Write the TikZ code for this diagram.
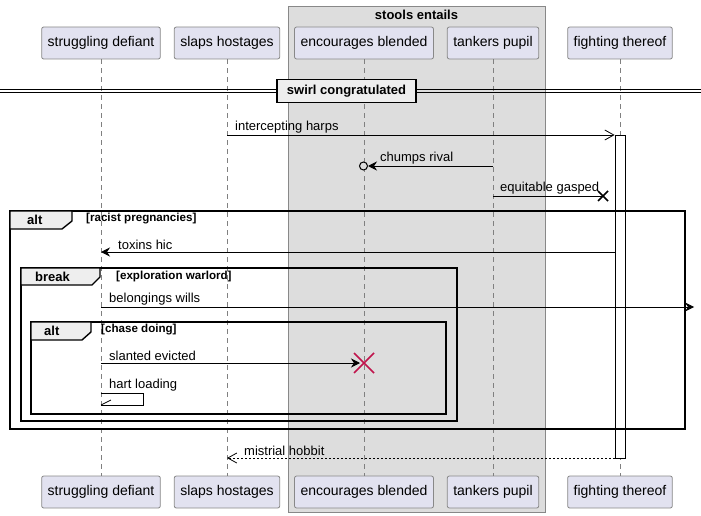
\documentclass[tikz,border=0pt]{standalone}
\usepackage{fontspec}
\setmainfont{Liberation Sans}
\usetikzlibrary{arrows.meta,calc}
\definecolor{partfill}{HTML}{E2E2F0}
\definecolor{partdraw}{HTML}{888888}
\definecolor{grpfill}{HTML}{DDDDDD}
\definecolor{tabfill}{HTML}{EEEEEE}
\definecolor{xred}{HTML}{C0144C}
\tikzset{
  part/.style={draw=partdraw,fill=partfill,rounded corners=2pt,minimum height=32pt,inner xsep=6pt,font=\fontsize{14}{16}\selectfont,line width=0.8pt},
  life/.style={draw=gray,dash pattern=on 5pt off 4pt,line width=0.6pt},
  msg/.style={draw=black,line width=0.8pt},
  mlabel/.style={font=\fontsize{13}{15}\selectfont,anchor=south west,inner sep=1pt},
  frm/.style={draw=black,line width=1.4pt},
  tab/.style={draw=black,fill=tabfill,line width=1.4pt},
  tablabel/.style={font=\bfseries\fontsize{13}{15}\selectfont,anchor=west,inner sep=0pt},
  guard/.style={font=\bfseries\fontsize{11.6}{13}\selectfont,anchor=west,inner sep=0pt},
  openarr/.style={-{Straight Barb[length=9pt,width=10pt,line width=0.8pt]}},
  fillarr/.style={-{Stealth[length=9pt,width=9pt,inset=3pt]}},
}
\begin{document}
\begin{tikzpicture}[x=1pt,y=-1pt]
\useasboundingbox (0,0) rectangle (701,516);
% group box
\node[draw=partdraw,fill=grpfill,line width=0.8pt,minimum width=257pt,minimum height=506pt,anchor=north west,inner sep=0pt] (grp) at (288,6) {};
\node[font=\bfseries\fontsize{13}{15}\selectfont,inner sep=0pt] (grptitle) at (416.5,15) {stools entails};
% participants top
\node[part] (sdT) at (101,43) {struggling defiant};
\node[part] (shT) at (227,43) {slaps hostages};
\node[part] (ebT) at (364,43) {encourages blended};
\node[part] (tpT) at (493,43) {tankers pupil};
\node[part] (ftT) at (620,43) {fighting thereof};
% participants bottom
\node[part] (sdB) at (101,492) {struggling defiant};
\node[part] (shB) at (227,492) {slaps hostages};
\node[part] (ebB) at (364,492) {encourages blended};
\node[part] (tpB) at (493,492) {tankers pupil};
\node[part] (ftB) at (620,492) {fighting thereof};
% lifelines
\foreach \p in {sd,sh,eb,tp,ft}{\draw[life] (\p T.south) -- (\p B.north);}
% divider
\draw[line width=0.8pt] (0,89.5) -- (701,89.5);
\draw[line width=0.8pt] (0,92.5) -- (701,92.5);
\node[draw=black,fill=tabfill,line width=1.6pt,minimum width=139pt,minimum height=23pt,font=\bfseries\fontsize{13}{15}\selectfont] (div) at (346.5,91) {swirl congratulated};
% activation
\node[draw=black,fill=white,line width=0.8pt,minimum width=10pt,minimum height=323pt,anchor=north,inner sep=0pt] (act) at (620,135) {};
% message y-lines helpers
\coordinate (y135) at (0,135);
\coordinate (y166) at (0,166);
\coordinate (y196) at (0,196);
\coordinate (y252) at (0,252);
\coordinate (y307) at (0,307);
\coordinate (y363) at (0,363);
\coordinate (y458) at (0,458);
% intercepting harps
\draw[msg,openarr] (shT |- y135) -- (act.west |- y135);
\node[mlabel] (l1) at (234,134) {intercepting harps};
% chumps rival
\coordinate (crEnd) at (368,166);
\draw[msg,fillarr] (tpT |- y166) -- (crEnd);
\node[draw=black,line width=1pt,circle,minimum size=8pt,inner sep=0pt,fill=grpfill] (crc) at (363.5,166) {};
\node[mlabel] (l2) at (379,165) {chumps rival};
% equitable gasped
\coordinate (egEnd) at (603,196);
\draw[msg] (tpT |- y196) -- (egEnd);
\draw[line width=1.6pt] ($(egEnd)+(-5,-5)$) -- ($(egEnd)+(5,5)$) ($(egEnd)+(-5,5)$) -- ($(egEnd)+(5,-5)$);
\node[mlabel] (l3) at (499,195) {equitable gasped};
% outer alt frame
\draw[frm] (10,211) rectangle (685,429);
\draw[tab] (10,211) -- (72,211) -- (72,221) -- (62,229) -- (10,229) -- cycle;
\node[tablabel] (t1) at (27,220) {alt};
\node[guard] (g1) at (86,219) {[racist pregnancies]};
% toxins hic
\draw[msg,fillarr] (act.west |- y252) -- (sdT |- y252);
\node[mlabel] (l4) at (117,251) {toxins hic};
% break frame
\draw[frm] (21,268) rectangle (457,421);
\draw[tab] (21,268) -- (100,268) -- (100,277) -- (92,285) -- (21,285) -- cycle;
\node[tablabel] (t2) at (35,277) {break};
\node[guard] (g2) at (116,276) {[exploration warlord]};
% belongings wills
\coordinate (bwEnd) at (694,307);
\draw[msg,fillarr] (sdT |- y307) -- (bwEnd);
\node[mlabel] (l5) at (108,306) {belongings wills};
% inner alt frame
\draw[frm] (31,322) rectangle (446,414);
\draw[tab] (31,322) -- (91,322) -- (91,332) -- (82,340) -- (31,340) -- cycle;
\node[tablabel] (t3) at (44,331) {alt};
\node[guard] (g3) at (101,330) {[chase doing]};
% slanted evicted
\coordinate (seEnd) at (360,363);
\draw[msg,fillarr] (sdT |- y363) -- (seEnd);
\draw[xred,line width=1.6pt] (354,353) -- (374,373) (354,373) -- (374,353);
\node[mlabel] (l6) at (108,362) {slanted evicted};
% hart loading (self)
\coordinate (hl1) at (101,393);
\coordinate (hl2) at (143,393);
\coordinate (hl3) at (143,405);
\coordinate (hl4) at (101,405);
\draw[msg] (hl1) -- (hl2) -- (hl3) -- (hl4);
\draw[msg] (hl4) -- (111,400);
\node[mlabel] (l7) at (108,392) {hart loading};
% mistrial hobbit
\draw[msg,dash pattern=on 2pt off 2pt,openarr] (act.west |- y458) -- (shT |- y458);
\node[mlabel] (l8) at (243,457) {mistrial hobbit};
\end{tikzpicture}
\end{document}
